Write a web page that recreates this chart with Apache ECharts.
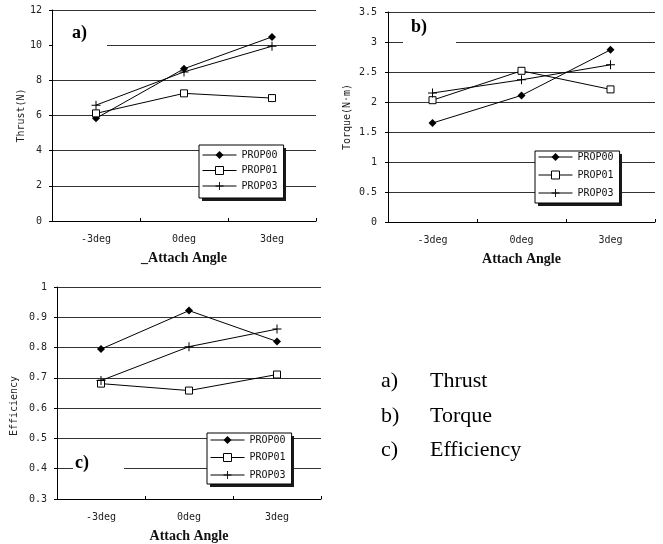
<!DOCTYPE html>
<html><head><meta charset="utf-8">
<script src="https://cdn.jsdelivr.net/npm/echarts@6/dist/echarts.min.js"></script>
<style>html,body{margin:0;padding:0;background:#fff}#c{width:663px;height:544px}</style>
</head><body><div id="c"></div>
<script>
const categories = ['-3deg', '0deg', '3deg'];
const seriesNames = ['PROP00', 'PROP01', 'PROP03'];
const thrust00 = [5.84, 8.66, 10.47];
const thrust01 = [6.12, 7.26, 6.99];
const thrust03 = [6.59, 8.48, 9.94];
const torque00 = [1.65, 2.11, 2.87];
const torque01 = [2.03, 2.52, 2.21];
const torque03 = [2.15, 2.37, 2.62];
const eff00 = [0.795, 0.922, 0.820];
const eff01 = [0.681, 0.658, 0.711];
const eff03 = [0.691, 0.803, 0.861];
const panelLabels = ['a)', 'b)', 'c)'];
const captionNames = ['Thrust', 'Torque', 'Efficiency'];
const yNames = ['Thrust(N)', 'Torque(N·m)', 'Efficiency'];
const xNames = ['_Attach Angle', 'Attach Angle', 'Attach Angle'];

const MONO = '"DejaVu Sans Mono", "Liberation Mono", monospace';
const SERIF = '"Liberation Serif", "DejaVu Serif", serif';
const plusPath = 'path://M4,0h1v4h4v1h-4v4h-1v-4h-4v-1h4z';
const symbols = ['diamond', 'rect', plusPath];
const symbolSizes = [8, 7, 9];
const itemStyles = [
  {color: '#000', borderWidth: 0},
  {color: '#fff', borderColor: '#000', borderWidth: 1},
  {color: '#000', borderWidth: 0}
];

const chart = echarts.init(document.getElementById('c'), null, {renderer: 'canvas'});

const grids = [
  {left: 52, top: 10, width: 264, height: 211},
  {left: 388, top: 12, width: 267, height: 210},
  {left: 57, top: 287, width: 264, height: 212}
];
const yDefs = [
  {min: 0, max: 12, interval: 2, margin: 10, nameGap: 21, namePad: [0, 0, 0, 0]},
  {min: 0, max: 3.5, interval: 0.5, margin: 11, nameGap: 36, namePad: [0, 0, 0, 0]},
  {min: 0.3, max: 1, interval: 0.1, margin: 10, nameGap: 38, namePad: [0, 26, 0, 0]}
];

const xAxes = grids.map((g, i) => ({
  type: 'category', gridIndex: i, data: categories, boundaryGap: true,
  axisLine: {show: true, lineStyle: {color: '#000', width: 1}},
  axisTick: {show: true, inside: true, length: 3, lineStyle: {color: '#000'}},
  axisLabel: {color: '#222', fontFamily: MONO, fontSize: 10, margin: 13},
  name: xNames[i], nameLocation: 'middle', nameGap: 30,
  nameTextStyle: {fontFamily: SERIF, fontWeight: 'bold', fontSize: 14, color: '#111'}
}));

const yAxes = yDefs.map((d, i) => ({
  type: 'value', gridIndex: i, min: d.min, max: d.max, interval: d.interval,
  axisLine: {show: true, lineStyle: {color: '#000', width: 1}},
  axisTick: {show: true, inside: false, length: 3, lineStyle: {color: '#000'}},
  splitLine: {show: true, lineStyle: {color: '#333', width: 1}},
  axisLabel: {color: '#222', fontFamily: MONO, fontSize: 10, margin: d.margin,
    formatter: v => (i === 0 ? String(Math.round(v)) : String(Math.round(v * 10) / 10))},
  name: yNames[i], nameLocation: 'middle', nameGap: d.nameGap, nameRotate: 90,
  nameTextStyle: {fontFamily: MONO, fontSize: 10, color: '#222', padding: d.namePad}
}));

const dataSets = [[thrust00, thrust01, thrust03], [torque00, torque01, torque03], [eff00, eff01, eff03]];
const series = [];
dataSets.forEach((set, gi) => {
  set.forEach((vals, si) => {
    series.push({
      type: 'line', name: seriesNames[si], xAxisIndex: gi, yAxisIndex: gi,
      data: vals, symbol: symbols[si], symbolSize: symbolSizes[si],
      showSymbol: true, animation: false,
      lineStyle: {color: '#000', width: 1},
      itemStyle: Object.assign({}, itemStyles[si]),
      z: 3
    });
  });
});

const legendBoxes = [
  {left: 199, top: 145, padding: [5, 6, 7, 3], itemGap: 5.5, h: 53},
  {left: 535, top: 151, padding: [1, 6, 5, 3], itemGap: 8, h: 52},
  {left: 207, top: 433, padding: [2, 6, 4, 3], itemGap: 7.5, h: 51}
];
const LEG_W = 84;
const legends = legendBoxes.map((b, i) => ({
  left: b.left, top: b.top, orient: 'vertical', padding: b.padding, itemGap: b.itemGap,
  itemWidth: 34, itemHeight: 10,
  data: seriesNames.map((n, si) => ({name: n, itemStyle: Object.assign({}, itemStyles[si])})),
  backgroundColor: '#fff', borderColor: '#000', borderWidth: 1,
  lineStyle: {width: 1, color: '#000'},
  textStyle: {fontFamily: MONO, fontSize: 10, color: '#111', lineHeight: 10},
  selectedMode: false, z: 6
}));

const graphic = [];
// legend drop shadows
legendBoxes.forEach(b => {
  graphic.push({type: 'rect', shape: {x: b.left + 3, y: b.top + 3, width: LEG_W, height: b.h},
    style: {fill: '#1a1a1a'}, z: 5});
});
// white masks behind panel labels (interrupt gridlines as in the reference)
graphic.push({type: 'rect', shape: {x: 53, y: 22, width: 54, height: 28}, style: {fill: '#fff'}, z: 1});
graphic.push({type: 'rect', shape: {x: 403, y: 24, width: 53, height: 28}, style: {fill: '#fff'}, z: 1});
graphic.push({type: 'rect', shape: {x: 73, y: 452, width: 51, height: 28}, style: {fill: '#fff'}, z: 1});
const lblPos = [[72, 33], [411, 27], [75, 463]];
lblPos.forEach((p, i) => {
  graphic.push({type: 'text', x: p[0], y: p[1], style: {text: panelLabels[i], font: 'bold 18px ' + SERIF, fill: '#000', verticalAlign: 'middle'}, z: 5});
});
const capY = [381.6, 416.6, 450.6];
captionNames.forEach((t, i) => {
  graphic.push({type: 'text', x: 381, y: capY[i], style: {text: panelLabels[i], font: '22px ' + SERIF, fill: '#000', verticalAlign: 'middle'}});
  graphic.push({type: 'text', x: 430, y: capY[i], style: {text: t, font: '22px ' + SERIF, fill: '#000', verticalAlign: 'middle'}});
});

chart.setOption({
  animation: false,
  backgroundColor: '#fff',
  grid: grids.map(g => Object.assign({containLabel: false, show: false}, g)),
  xAxis: xAxes,
  yAxis: yAxes,
  legend: legends,
  series: series,
  graphic: graphic
});
</script>
</body></html>
